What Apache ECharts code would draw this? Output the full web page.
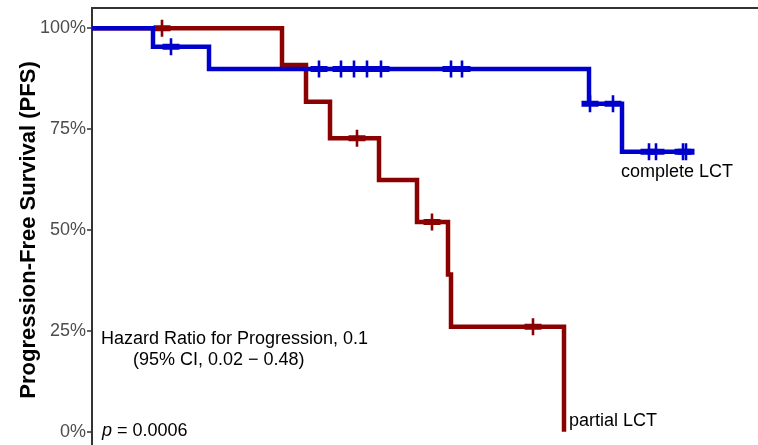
<!DOCTYPE html>
<html>
<head>
<meta charset="utf-8">
<script src="https://cdn.jsdelivr.net/npm/echarts@6/dist/echarts.min.js"></script>
<style>
html,body{margin:0;padding:0;background:#fff;}
#chart{width:758px;height:445px;}
</style>
</head>
<body>
<div id="chart"></div>
<script>
// Kaplan-Meier step data (time in arbitrary units, survival in %)
const completeTimes = [0, 6.1, 11.7, 49.7, 53.0, 59.4];
const completeSurv  = [100, 95.4, 89.9, 81.3, 69.4, 69.4];
const completeCensor = [7.9, 22.7, 24.9, 26.2, 27.5, 28.9, 35.9, 37.0, 49.8, 52.1, 55.7, 56.4, 59.1, 59.4];

const partialTimes = [0, 19.0, 21.4, 23.8, 28.7, 32.5, 35.6, 35.9, 47.2];
const partialSurv  = [100, 90.9, 81.8, 72.7, 62.4, 52.0, 39.0, 26.0, 0];
const partialCensor = [7.0, 26.5, 34.0, 44.1];

const yTicks = [0, 25, 50, 75, 100];

const seriesNames = ['partial LCT', 'complete LCT'];
const hrText1 = 'Hazard Ratio for Progression, 0.1';
const hrText2 = '(95% CI, 0.02 \u2212 0.48)';
const pText = '0.0006';

function pairs(t, s) { return t.map((v, i) => [v, s[i]]); }
function survAt(t, times, surv) {
  let v = surv[0];
  for (let i = 0; i < times.length; i++) { if (times[i] <= t) v = surv[i]; }
  return v;
}
function censorPts(c, times, surv) { return c.map(t => [t, survAt(t, times, surv)]); }

const RED = '#8B0000';
const BLUE = '#0000CD';
const FONT = '"Liberation Sans", Arial, Helvetica, sans-serif';
const plusPath = 'path://M7.2,0h2.6v17h-2.6z M0,5.5h17v6h-17z';

const chart = echarts.init(document.getElementById('chart'), null, {renderer: 'canvas'});
chart.setOption({
  animation: false,
  backgroundColor: '#fff',
  grid: {
    left: 92, top: 8, width: 720, height: 444,
    outerBoundsMode: 'none', containLabel: false,
    show: true, borderColor: '#333', borderWidth: 2, backgroundColor: 'transparent'
  },
  xAxis: {
    type: 'value', min: 0, max: 72,
    axisLine: {show: false}, axisTick: {show: false}, axisLabel: {show: false},
    splitLine: {show: false}
  },
  yAxis: {
    type: 'value', min: -5, max: 105,
    name: 'Progression-Free Survival (PFS)',
    nameLocation: 'middle', nameGap: 52, nameRotate: 90, nameMoveOverlap: false,
    nameTextStyle: {fontFamily: FONT, fontSize: 22, fontWeight: 'bold', color: '#000'},
    axisLine: {show: true, lineStyle: {color: '#333', width: 2}},
    axisTick: {show: true, length: 5, customValues: yTicks, lineStyle: {color: '#333', width: 1.5}},
    axisLabel: {
      customValues: yTicks, formatter: v => v + '%',
      fontFamily: FONT, fontSize: 18, color: '#4D4D4D', margin: 6
    },
    splitLine: {show: false}
  },
  series: [
    {
      name: seriesNames[0], type: 'line', step: 'end', showSymbol: false, z: 2,
      data: pairs(partialTimes, partialSurv),
      lineStyle: {color: RED, width: 4.5, cap: 'butt', join: 'miter'}
    },
    {
      name: seriesNames[0] + ' censor', type: 'scatter', z: 3,
      symbol: plusPath, symbolSize: 17,
      data: censorPts(partialCensor, partialTimes, partialSurv),
      itemStyle: {color: RED, opacity: 1}
    },
    {
      name: seriesNames[1], type: 'line', step: 'end', showSymbol: false, z: 4,
      data: pairs(completeTimes, completeSurv),
      lineStyle: {color: BLUE, width: 4.5, cap: 'butt', join: 'miter'}
    },
    {
      name: seriesNames[1] + ' censor', type: 'scatter', z: 5,
      symbol: plusPath, symbolSize: 17,
      data: censorPts(completeCensor, completeTimes, completeSurv),
      itemStyle: {color: BLUE, opacity: 1}
    }
  ],
  graphic: [
    {type: 'text', left: 621, top: 163, style: {text: seriesNames[1], font: '18px ' + FONT, fill: '#000'}},
    {type: 'text', left: 569, top: 412, style: {text: seriesNames[0], font: '18px ' + FONT, fill: '#000'}},
    {type: 'text', left: 101, top: 330, style: {text: hrText1, font: '18px ' + FONT, fill: '#000'}},
    {type: 'text', left: 133, top: 351, style: {text: hrText2, font: '18px ' + FONT, fill: '#000'}},
    {type: 'text', left: 102, top: 422, style: {
      text: '{i|p} = ' + pText, font: '18px ' + FONT, fill: '#000',
      rich: {i: {fontStyle: 'italic', fontFamily: FONT, fontSize: 18}}
    }}
  ]
});
</script>
</body>
</html>
